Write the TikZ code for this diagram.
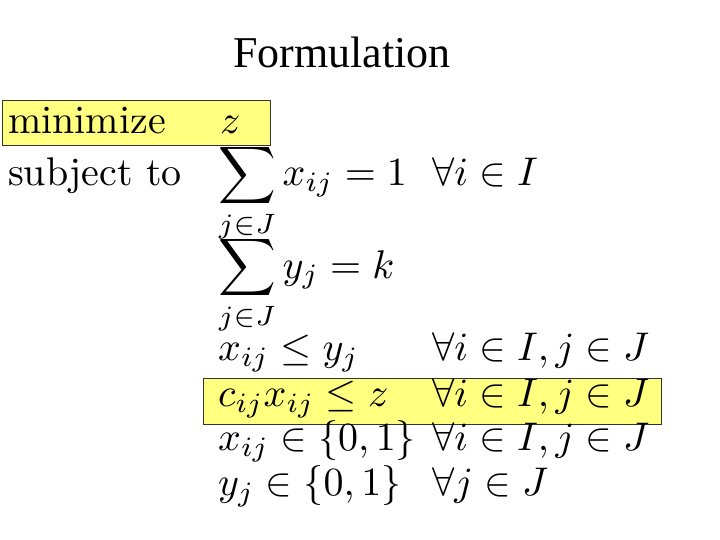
\documentclass[tikz,border=0pt]{standalone}
\usepackage{graphicx}
\usepackage{fontspec}
\newfontfamily\titlefont{Liberation Serif}
\definecolor{hl}{RGB}{255,255,128}
\newcommand{\bigtxt}[1]{\scalebox{4}{\normalsize #1}}
\begin{document}
\begin{tikzpicture}[x=1pt,y=-1pt,
  t/.style={anchor=base west,inner sep=0pt},
  box/.style={draw=black!80,fill=hl,line width=0.8pt}]
\useasboundingbox (0,0) rectangle (720,540);
\node[font=\titlefont\fontsize{44}{50}\selectfont] (title) at (342,52) {Formulation};
\fill[box] (2,100) rectangle (270,145);
\fill[box] (203,378) rectangle (661,424);
\node[t] (min) at (8,134) {\bigtxt{minimize}};
\node[t] (z) at (220,134) {\bigtxt{$z$}};
\node[t] (st) at (8,186) {\bigtxt{subject to}};
\node[t] (c1) at (218,186) {\bigtxt{$\displaystyle\sum_{j\in J} x_{ij}=1$}};
\node[t] (q1) at (432,186) {\bigtxt{$\forall i\in I$}};
\node[t] (c2) at (218,278) {\bigtxt{$\displaystyle\sum_{j\in J} y_{j}=k$}};
\node[t] (c3) at (218,360) {\bigtxt{$x_{ij}\le y_j$}};
\node[t] (q3) at (432,360) {\bigtxt{$\forall i\in I, j\in J$}};
\node[t] (c4) at (218,406) {\bigtxt{$c_{ij}x_{ij}\le z$}};
\node[t] (q4) at (432,406) {\bigtxt{$\forall i\in I, j\in J$}};
\node[t] (c5) at (218,450) {\bigtxt{$x_{ij}\in\{0,1\}$}};
\node[t] (q5) at (432,450) {\bigtxt{$\forall i\in I, j\in J$}};
\node[t] (c6) at (218,495) {\bigtxt{$y_{j}\in\{0,1\}$}};
\node[t] (q6) at (432,495) {\bigtxt{$\forall j\in J$}};
\end{tikzpicture}
\end{document}
